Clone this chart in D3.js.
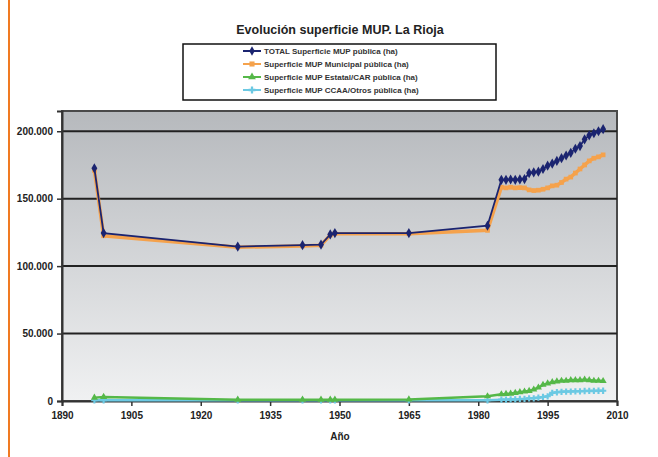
<!DOCTYPE html>
<html>
<head>
<meta charset="UTF-8">
<title>Evolución superficie MUP. La Rioja</title>
<style>
  body { margin: 0; background: #fff; }
  svg { display: block; font-family: "Liberation Sans", Arial, sans-serif; }
</style>
<script src="https://cdn.jsdelivr.net/npm/d3@7"></script>
</head>
<body>
<svg id="chart" width="658" height="457"></svg>
<script>
// years of the catalogue revisions
var years = [1897, 1899, 1928, 1942, 1946, 1948, 1949, 1965, 1982,
  1985, 1986, 1987, 1988, 1989, 1990, 1991, 1992, 1993, 1994, 1995, 1996,
  1997, 1998, 1999, 2000, 2001, 2002, 2003, 2004, 2005, 2006, 2007]

var total = [172500, 124500, 114500, 115500, 116000, 123500, 124500, 124500, 130000,
  164000, 164000, 164200, 164000, 164300, 164500, 169000, 169500, 170000, 172000, 174500, 176000,
  178000, 180000, 182000, 184000, 187000, 189000, 194000, 197000, 198500, 200000, 201500]

var municipal = [171000, 122500, 114000, 115000, 115500, 123000, 124000, 124000, 126500,
  158500, 158000, 158500, 158000, 158200, 158000, 156500, 156000, 156300, 157000, 158000, 159500,
  160000, 162000, 164500, 166000, 169000, 172000, 175000, 178000, 180000, 181000, 182500]

var estatal = [2500, 3000, 1000, 1000, 1000, 1000, 1000, 1200, 3500,
  5000, 5200, 5500, 6000, 6500, 7000, 7500, 8500, 10000, 12000, 13000, 14000,
  14500, 15000, 15000, 15500, 15500, 15500, 15800, 15500, 15000, 15000, 14800]

var otros = [500, 500, 500, 500, 500, 500, 500, 500, 500,
  1000, 1000, 1200, 1200, 1500, 1500, 2000, 2000, 2500, 3000, 3500, 6000,
  6500, 6800, 7000, 7000, 7200, 7200, 7400, 7500, 7500, 7600, 7600]

var seriesNames = [
  "TOTAL Superficie MUP pública (ha)",
  "Superficie MUP Municipal pública (ha)",
  "Superficie MUP Estatal/CAR pública (ha)",
  "Superficie MUP CCAA/Otros pública (ha)"
]
var xTicks = [1890, 1905, 1920, 1935, 1950, 1965, 1980, 1995, 2010]
var yTicks = [0, 50000, 100000, 150000, 200000]

var svg = d3.select("#chart")
var plotL = 62, plotR = 617, plotT = 111, plotB = 401

var x = d3.scaleLinear().domain([1890, 2010]).range([plotL, plotR])
var y = d3.scaleLinear().domain([0, 215000]).range([plotB, plotT])

// frame line on the left of the page
svg.append("line").attr("x1", 9).attr("x2", 9).attr("y1", 0).attr("y2", 457)
  .attr("stroke", "#f07a22").attr("stroke-width", 2)

// plot area background
var grad = svg.append("defs").append("linearGradient").attr("id", "bg")
  .attr("x1", 0).attr("y1", 0).attr("x2", 0).attr("y2", 1)
grad.append("stop").attr("offset", "0%").attr("stop-color", "#b6b9bd")
grad.append("stop").attr("offset", "100%").attr("stop-color", "#f0f1f2")
svg.append("rect").attr("x", plotL).attr("y", plotT)
  .attr("width", plotR - plotL).attr("height", plotB - plotT)
  .attr("fill", "url(#bg)").attr("stroke", "#4a4a4a").attr("stroke-width", 2)

// gridlines
svg.append("g").selectAll("line").data(yTicks.slice(1)).join("line")
  .attr("x1", plotL).attr("x2", plotR)
  .attr("y1", function(d) { return y(d) }).attr("y2", function(d) { return y(d) })
  .attr("stroke", "#222").attr("stroke-width", 2)

var fmt = function(d) { return d3.format(",")(d).replace(/,/g, ".") }

var yAxis = svg.append("g").attr("transform", "translate(" + plotL + ",0)")
  .call(d3.axisLeft(y).tickValues(yTicks).tickFormat(fmt).tickSize(5).tickPadding(4))
yAxis.select(".domain").attr("stroke", "#333").attr("stroke-width", 2)
yAxis.selectAll("line").attr("stroke", "#333").attr("stroke-width", 1.5)
yAxis.selectAll("text").attr("font-size", 10).attr("font-weight", "bold").attr("fill", "#222")

var xAxis = svg.append("g").attr("transform", "translate(0," + plotB + ")")
  .call(d3.axisBottom(x).tickValues(xTicks).tickFormat(d3.format("d")).tickSize(5).tickPadding(6))
xAxis.select(".domain").attr("stroke", "#333").attr("stroke-width", 2)
xAxis.selectAll("line").attr("stroke", "#333").attr("stroke-width", 1.5)
xAxis.selectAll("text").attr("font-size", 10).attr("font-weight", "bold").attr("fill", "#222")

svg.append("text").attr("x", 340).attr("y", 440).attr("text-anchor", "middle")
  .attr("font-size", 10).attr("font-weight", "bold").attr("fill", "#222").text("Año")

svg.append("text").attr("x", 340).attr("y", 34).attr("text-anchor", "middle")
  .attr("font-size", 12.5).attr("font-weight", "bold").attr("fill", "#222")
  .text("Evolución superficie MUP. La Rioja")

var colors = ["#1b2470", "#f5a24c", "#55b848", "#6cc9e3"]
var widths = [1.8, 3.5, 2.5, 2.5]
var shapes = [d3.symbolDiamond, d3.symbolSquare, d3.symbolTriangle, d3.symbolCross]
var values = [total, municipal, estatal, otros]

function drawSeries(i) {
  var pts = years.map(function(yr, k) { return [yr, values[i][k]] })
  var line = d3.line().x(function(d) { return x(d[0]) }).y(function(d) { return y(d[1]) })
  svg.append("path").datum(pts).attr("d", line).attr("fill", "none")
    .attr("stroke", colors[i]).attr("stroke-width", widths[i])
  svg.append("g").selectAll("path").data(pts).join("path")
    .attr("transform", function(d) { return "translate(" + x(d[0]) + "," + y(d[1]) + ")" })
    .attr("d", d3.symbol().type(shapes[i]).size(i === 0 ? 30 : 22))
    .attr("fill", colors[i])
}
// draw back to front so the total stays on top
;[3, 2, 1, 0].forEach(drawSeries)

// legend
var lg = svg.append("g")
lg.append("rect").attr("x", 183).attr("y", 44).attr("width", 313).attr("height", 56)
  .attr("fill", "#fff").attr("stroke", "#111").attr("stroke-width", 1.5)
seriesNames.forEach(function(name, i) {
  var yy = 51 + i * 13
  lg.append("line").attr("x1", 243).attr("x2", 261).attr("y1", yy).attr("y2", yy)
    .attr("stroke", colors[i]).attr("stroke-width", 2)
  lg.append("path").attr("transform", "translate(252," + yy + ")")
    .attr("d", d3.symbol().type(shapes[i]).size(26)).attr("fill", colors[i])
  lg.append("text").attr("x", 264).attr("y", yy + 3).attr("font-size", 8)
    .attr("font-weight", "bold").attr("fill", "#333").text(name)
})
</script>
</body>
</html>
